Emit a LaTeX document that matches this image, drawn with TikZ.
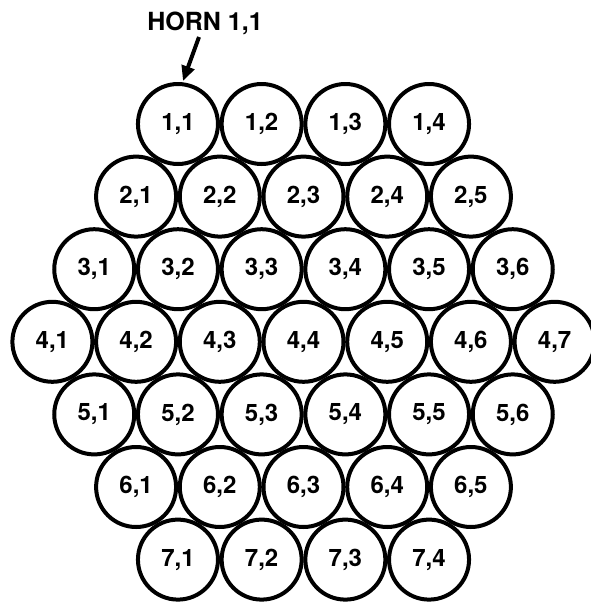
\documentclass[tikz,border=0pt]{standalone}
\usepackage{fontspec}
\setmainfont{TeX Gyre Heros}
\usetikzlibrary{arrows.meta}
\begin{document}
\begin{tikzpicture}[x=1pt,y=-1pt,
 horn/.style={circle,draw,line width=4pt,minimum size=80pt,inner sep=0pt,font=\fontsize{24}{24}\selectfont\bfseries},
 lbl/.style={font=\fontsize{25}{25}\selectfont\bfseries,inner sep=0pt},
 pointer/.style={line width=4pt,-{Triangle[length=15pt,width=13pt]}}]
\useasboundingbox (0,0) rectangle (590,603);
\foreach \r/\n in {1/4,2/5,3/6,4/7,5/6,6/5,7/4}{
  \foreach \c in {1,...,\n}{
    \node[horn] (c\r\c) at ({303.5+(\c-(\n+1)/2)*83.7},{124+(\r-1)*72.6}) {\r,\c};
  }
}
\node[lbl] (hornlbl) at (205,23) {HORN 1,1};
\coordinate (tail) at (199,37);
\coordinate (tip) at (183,81);
\draw[pointer] (tail) -- (tip);
\end{tikzpicture}
\end{document}
